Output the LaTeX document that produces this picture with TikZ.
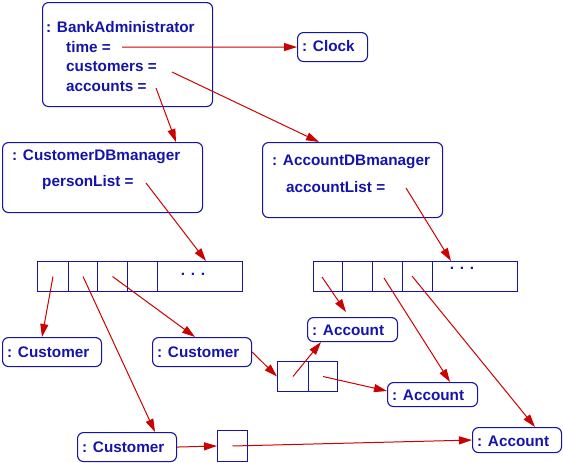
\documentclass[tikz,border=0pt]{standalone}
\usepackage{fontspec}
\setmainfont{Liberation Sans}
\usetikzlibrary{arrows.meta}
\definecolor{ublue}{RGB}{20,20,170}
\definecolor{ured}{RGB}{205,0,0}
\begin{document}
\begin{tikzpicture}[x=1pt,y=-1pt,
  objbox/.style={draw=ublue, line width=1.1pt, rounded corners=6pt, anchor=north west, inner sep=0},
  cell/.style={draw=ublue, line width=1pt, anchor=north west, inner sep=0, minimum height=30},
  lbl/.style={text=ublue, font=\fontsize{15.3}{18}\selectfont\bfseries, anchor=west, inner sep=0},
  ref/.style={draw=ured, line width=1pt, -{Triangle[length=13pt,width=8pt]}}]
\useasboundingbox (0,0) rectangle (563,463);

% objects with attributes
\node[objbox, minimum width=170, minimum height=104] (bank) at (42,2) {};
\node[lbl] (bankT) at (46,27) {: BankAdministrator};
\node[lbl] (timeT) at (66,47) {time =};
\node[lbl] (custT) at (66,67) {customers =};
\node[lbl] (accT) at (66,87) {accounts =};

\node[objbox, minimum width=70, minimum height=29] (clock) at (297,32) {};
\node[lbl] (clockT) at (302,46.5) {: Clock};

\node[objbox, minimum width=200, minimum height=70] (cdb) at (2,142) {};
\node[lbl] (cdbT) at (12,157) {: CustomerDBmanager};
\node[lbl] (plT) at (42,183) {personList =};

\node[objbox, minimum width=180, minimum height=75] (adb) at (262,142) {};
\node[lbl] (adbT) at (272,162) {: AccountDBmanager};
\node[lbl] (alT) at (286,187) {accountList =};

% arrays
\node[cell, minimum width=31] (L1) at (37,261) {};
\node[cell, minimum width=29] (L2) at (68,261) {};
\node[cell, minimum width=30] (L3) at (97,261) {};
\node[cell, minimum width=30] (L4) at (127,261) {};
\node[cell, minimum width=85] (L5) at (157,261) {};
\node[lbl, anchor=center] (Ldots) at (193,274) {. . .};

\node[cell, minimum width=29] (R1) at (313,261) {};
\node[cell, minimum width=30] (R2) at (342,261) {};
\node[cell, minimum width=30] (R3) at (372,261) {};
\node[cell, minimum width=30] (R4) at (402,261) {};
\node[cell, minimum width=85] (R5) at (432,261) {};
\node[lbl, anchor=center] (Rdots) at (462,268) {. . .};

% customers
\node[objbox, minimum width=99, minimum height=29] (cust1) at (2,337) {};
\node[lbl] (cust1T) at (7,352) {: Customer};
\node[objbox, minimum width=99, minimum height=29] (cust2) at (152,337) {};
\node[lbl] (cust2T) at (157,352) {: Customer};
\node[objbox, minimum width=99, minimum height=29] (cust3) at (77,432) {};
\node[lbl] (cust3T) at (82,447) {: Customer};

% small arrays
\node[cell, minimum width=31] (T1) at (277,361) {};
\node[cell, minimum width=29] (T2) at (308,361) {};
\node[cell, minimum width=30, minimum height=31] (S) at (217,430) {};

% accounts
\node[objbox, minimum width=90, minimum height=24] (acc1) at (307,317) {};
\node[lbl] (acc1T) at (312,330) {: Account};
\node[objbox, minimum width=90, minimum height=24] (acc2) at (387,382) {};
\node[lbl] (acc2T) at (392,395.5) {: Account};
\node[objbox, minimum width=89, minimum height=25] (acc3) at (472,427) {};
\node[lbl] (acc3T) at (477,441) {: Account};

% start / end points
\coordinate (timeS) at (122,47);
\coordinate (custS) at (172,72);
\coordinate (accS) at (156,88);
\coordinate (plS) at (146,183);
\coordinate (alS) at (406,188);
\coordinate (R1S) at (322,277);
\coordinate (R3S) at (384,278);
\coordinate (R4S) at (412,276);
\coordinate (a1top) at (346,312);
\coordinate (a2w) at (387,391);

% connectors
\draw[ref] (timeS) -- (clock.west);
\draw[ref] (custS) -- (319,0 |- adb.north);
\draw[ref] (accS) -- (176,0 |- cdb.north);
\draw[ref] (plS) -- (206,0 |- L5.north);
\draw[ref] (alS) -- (451,0 |- R5.north);
\draw[ref] (L1.center) -- (42,0 |- cust1.north);
\draw[ref] (L2.center) -- (155,0 |- cust3.north);
\draw[ref] (L3.center) -- (195,0 |- cust2.north);
\draw[ref] (cust2.east) -- (T1.west);
\draw[ref] (T1.center) -- (321,0 |- acc1.south);
\draw[ref] (T2.center) -- (a2w);
\draw[ref] (R1S) -- (a1top);
\draw[ref] (R3S) -- (450,0 |- acc2.north);
\draw[ref] (R4S) -- (535,0 |- acc3.north);
\draw[ref] (cust3.east) -- (S.west);
\draw[ref] (S.center) -- (acc3.west);
\end{tikzpicture}
\end{document}
